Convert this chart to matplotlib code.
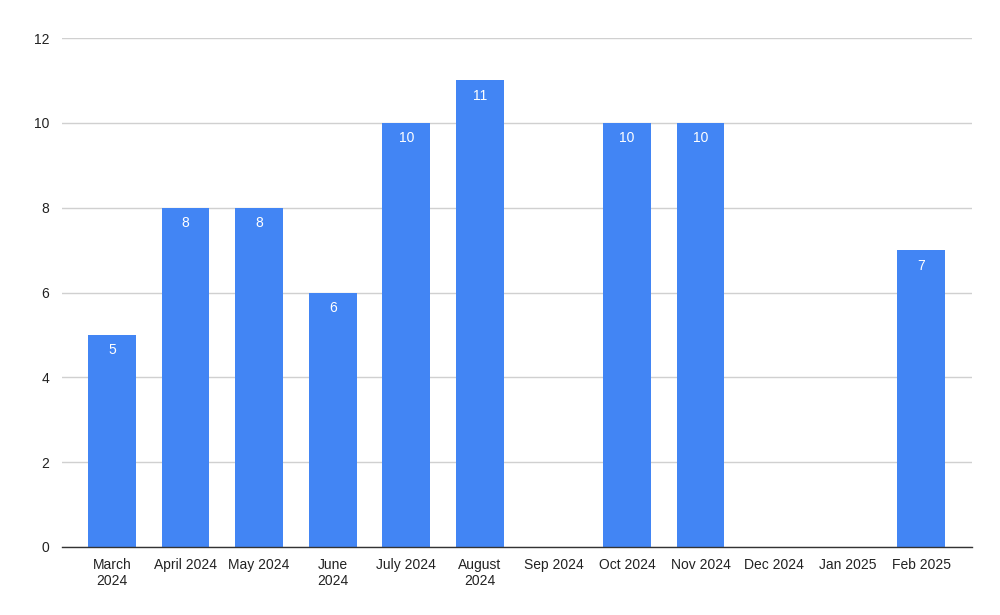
import matplotlib
matplotlib.use("Agg")
import matplotlib.pyplot as plt
import numpy as np

categories = ["March\n2024", "April 2024", "May 2024", "June\n2024", "July 2024",
              "August\n2024", "Sep 2024", "Oct 2024", "Nov 2024", "Dec 2024",
              "Jan 2025", "Feb 2025"]
values = [5, 8, 8, 6, 10, 11, 0, 10, 10, 0, 0, 7]
yticks = [0, 2, 4, 6, 8, 10, 12]

plt.rcParams['font.family'] = ['Liberation Sans', 'DejaVu Sans']

fig = plt.figure(figsize=(10, 6.15), dpi=100)
ax = fig.add_axes([0.062, 1 - 547 / 615, 0.910, (547 - 38) / 615])

x = np.arange(len(categories))
bars = ax.bar(x, values, width=0.65, color="#4285F4", zorder=3)
for xi, v in zip(x, values):
    if v > 0:
        ax.text(xi, v - 0.2, str(v), ha="center", va="top", color="white",
                fontsize=10, zorder=4)

ax.set_xlim(-0.68, 11.69)
ax.set_ylim(0, 12)
ax.set_yticks(yticks)
ax.set_yticklabels([str(t) for t in yticks], fontsize=10, color="#222222")
ax.set_xticks(x)
ax.set_xticklabels(categories, fontsize=10, color="#222222", linespacing=1.2)
ax.tick_params(axis="both", length=0)
ax.tick_params(axis="y", pad=9)
ax.tick_params(axis="x", pad=8)
ax.grid(axis="y", color="#d0d0d0", linewidth=1, zorder=0)
for s in ["top", "right", "left"]:
    ax.spines[s].set_visible(False)
ax.spines["bottom"].set_color("#333333")
ax.spines["bottom"].set_linewidth(1)
ax.spines["bottom"].set_zorder(5)

fig.savefig("out.png", dpi=100)
